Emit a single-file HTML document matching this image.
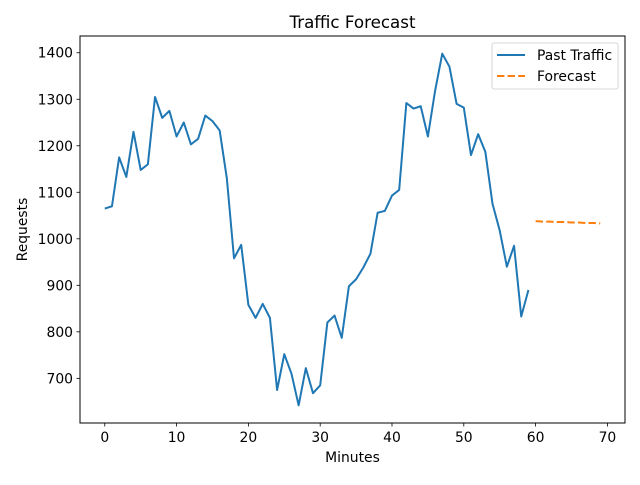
<!DOCTYPE html>
<html><head><meta charset="utf-8"><style>
body{margin:0;background:#fff;}
svg text{font-family:"DejaVu Sans","Liberation Sans",sans-serif;}
</style></head><body>
<svg id="chart" width="640" height="480" xmlns="http://www.w3.org/2000/svg"></svg>
<script>
const pastX = Array.from({length:60},(_,i)=>i);
const pastValues = [1065,1070,1175,1133,1230,1148,1160,1305,1260,1275,1220,1250,1203,1215,1265,1253,1233,1130,958,987,858,830,860,830,675,752,710,642,722,668,685,820,835,787,898,913,938,968,1056,1060,1093,1105,1292,1280,1285,1220,1318,1398,1370,1290,1282,1180,1225,1187,1075,1018,940,985,833,890];
const forecastX = [60,61,62,63,64,65,66,67,68,69];
const forecastValues = [1038,1037,1037,1036,1036,1035,1035,1034,1034,1033];
const xTicks = [0,10,20,30,40,50,60,70];
const yTicks = [700,800,900,1000,1100,1200,1300,1400];

const L=80,R=625,T=36,B=423;
const xMin=-3.45,xMax=72.45,yMin=604,yMax=1436;
const sx=v=>L+(v-xMin)/(xMax-xMin)*(R-L);
const sy=v=>B-(v-yMin)/(yMax-yMin)*(B-T);
const svg=document.getElementById('chart');
const NS='http://www.w3.org/2000/svg';
function mk(tag,attrs,parent){const e=document.createElementNS(NS,tag);for(const k in attrs)e.setAttribute(k,attrs[k]);(parent||svg).appendChild(e);return e;}

let t=mk('text',{x:(L+R)/2,y:28,'text-anchor':'middle','font-size':16.7,fill:'#000'});t.textContent='Traffic Forecast';



xTicks.forEach(v=>{
  const x=sx(v);
  const l=mk('line',{x1:x,x2:x,y1:B,y2:B+3.5,stroke:'#000','stroke-width':0.8});
  
  
  const tx=mk('text',{x:x,y:B+19,'text-anchor':'middle','font-size':13.9,fill:'#000'});tx.textContent=v;
  
  
});
yTicks.forEach(v=>{
  const y=sy(v);
  const l=mk('line',{x1:L-3.5,x2:L,y1:y,y2:y,stroke:'#000','stroke-width':0.8});
  
  
  const tx=mk('text',{x:L-7,y:y+5,'text-anchor':'end','font-size':13.9,fill:'#000'});tx.textContent=v;
  
  
});
t=mk('text',{x:(L+R)/2,y:462,'text-anchor':'middle','font-size':13.9,fill:'#000'});t.textContent='Minutes';


t=mk('text',{x:0,y:0,'text-anchor':'middle','font-size':13.9,fill:'#000',transform:`translate(27,${(T+B)/2}) rotate(-90)`});t.textContent='Requests';



let p=mk('polyline',{points:pastX.map((x,i)=>sx(x)+','+sy(pastValues[i])).join(' '),fill:'none',stroke:'#1f77b4','stroke-width':2,'stroke-linejoin':'round'});


p=mk('polyline',{points:forecastX.map((x,i)=>sx(x)+','+sy(forecastValues[i])).join(' '),fill:'none',stroke:'#ff7f0e','stroke-width':2,'stroke-dasharray':'7.4,3.2'});



const fr=mk('rect',{x:L,y:T,width:R-L,height:B-T,fill:'none',stroke:'#000','stroke-width':1});



const lg=mk('g',{});


mk('rect',{x:492,y:43,width:126,height:46,rx:2,fill:'#fff','fill-opacity':0.8,stroke:'#ccc','stroke-width':0.8},lg);
let e=mk('line',{x1:497,x2:525,y1:55,y2:55,stroke:'#1f77b4','stroke-width':2},lg);


t=mk('text',{x:537,y:60,'font-size':13.9,fill:'#000'},lg);t.textContent='Past Traffic';
e=mk('line',{x1:497,x2:525,y1:76,y2:76,stroke:'#ff7f0e','stroke-width':2,'stroke-dasharray':'7.4,3.2'},lg);


t=mk('text',{x:537,y:81,'font-size':13.9,fill:'#000'},lg);t.textContent='Forecast';
</script>
</body></html>
